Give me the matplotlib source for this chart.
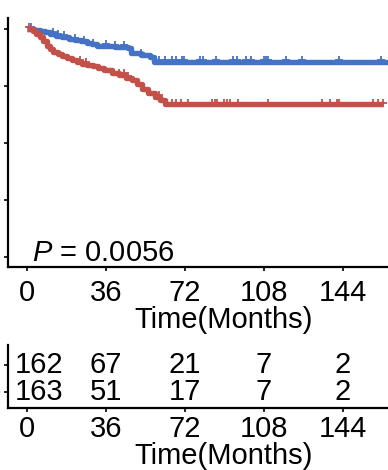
import numpy as np
import matplotlib
matplotlib.use("Agg")
import matplotlib.pyplot as plt

plt.rcParams['font.family'] = ['Liberation Sans', 'DejaVu Sans']
plt.rcParams['mathtext.fontset'] = 'custom'
plt.rcParams['mathtext.it'] = 'Liberation Sans:italic'
plt.rcParams['mathtext.rm'] = 'Liberation Sans'

# ---- data ----
blue_time = [0, 3, 5.9, 8, 10.5, 13, 16.0, 19, 21.9, 24.5, 27.3, 29.5, 31.9,
             40, 46.0, 47.4, 52, 56.0, 57.9, 170]
blue_surv = [1.0, 0.996, 0.99, 0.985, 0.978, 0.971, 0.965, 0.958, 0.952, 0.945,
             0.939, 0.932, 0.925, 0.921, 0.915, 0.893, 0.885, 0.877, 0.857, 0.857]
red_time = [0, 2.7, 4.3, 5.9, 7.5, 9.1, 10.5, 11.8, 14, 16, 18.2, 20.5, 22.8,
            25, 27.3, 30, 32.4, 35, 38.7, 42, 45, 47.8, 50, 52.4, 55, 58.3,
            60.5, 62.9, 162]
red_surv = [1.0, 0.993, 0.98, 0.965, 0.945, 0.925, 0.91, 0.899, 0.89, 0.883,
            0.872, 0.862, 0.855, 0.848, 0.842, 0.836, 0.829, 0.82, 0.807, 0.798,
            0.787, 0.776, 0.76, 0.737, 0.72, 0.702, 0.69, 0.669, 0.669]

blue_censor = [2, 12, 14, 17, 22, 26, 30, 36, 40, 44, 52, 60, 63, 66, 68,
               70.6, 71.5, 78.8, 80.2, 86.1, 93.9, 95.7, 99.8, 102.1, 108,
               108.9, 109.8, 118, 125.3, 142.2, 161.3]
red_censor = [1, 24, 27, 42, 44, 46, 60, 64, 66, 68, 70, 73.4, 84.3, 85.7,
              86.6, 89.8, 91.1, 92.5, 96.2, 109.8, 134.4, 138.1, 141.3,
              142.2, 157.7, 160, 162]

x_ticks = [0, 36, 72, 108, 144]
y_ticks = [0, 0.25, 0.5, 0.75, 1.0]
risk_top = [162, 67, 21, 7, 2]
risk_bottom = [163, 51, 17, 7, 2]
p_text = r'$\it{P}$ = 0.0056'
x_label = 'Time(Months)'

BLUE = '#4472C4'
RED = '#C4504A'
FS = 21

W, H = 388, 470
fig = plt.figure(figsize=(W / 100, H / 100), dpi=100)


def px_axes(x0, y_top, x1, y_bot):
    return fig.add_axes([x0 / W, 1 - y_bot / H, (x1 - x0) / W, (y_bot - y_top) / H])


xlim = (-(27 - 8) * 36 / 79, (388 - 27) * 36 / 79)

# ---- main KM plot ----
ax = px_axes(8, 18, 388, 267)
ax.set_xlim(*xlim)
ax.set_ylim(-0.044, 1.048)


def step_val(tt, ss, t):
    idx = np.searchsorted(np.asarray(tt), t, side='right') - 1
    return np.asarray(ss)[idx]


for tt, ss, cc, col in [(blue_time, blue_surv, blue_censor, BLUE),
                        (red_time, red_surv, red_censor, RED)]:
    ax.step(tt, ss, where='post', color=col, lw=3.9, solid_capstyle='butt', zorder=3)
    cc = np.asarray(cc)
    ax.plot(cc, step_val(tt, ss, cc) + 0.008, ls='none', marker='+', ms=6,
            mew=1.3, color=col, zorder=3)

for s in ['top', 'right']:
    ax.spines[s].set_visible(False)
for s in ['left', 'bottom']:
    ax.spines[s].set_linewidth(1.6)
ax.set_xticks(x_ticks)
ax.set_xticklabels([str(v) for v in x_ticks], fontsize=FS)
ax.set_yticks(y_ticks)
ax.set_yticklabels([])
ax.tick_params(axis='both', length=3, width=1.2)
ax.tick_params(axis='x', pad=5.8)
ax.text(2.3, -0.018, p_text, fontsize=FS, ha='left', va='baseline')
fig.text(224 / W, 1 - 328 / H, x_label, fontsize=FS, ha='center', va='baseline')

# ---- risk table ----
rt = px_axes(8, 345, 388, 408)
rt.set_xlim(*xlim)
rt.set_ylim(0.407, 2.74)
for i, t in enumerate(x_ticks):
    if i == 0:
        rt.text(-5.4, 2, str(risk_top[i]), fontsize=FS, ha='left', va='center')
        rt.text(-5.4, 1, str(risk_bottom[i]), fontsize=FS, ha='left', va='center')
    else:
        rt.text(t, 2, str(risk_top[i]), fontsize=FS, ha='center', va='center')
        rt.text(t, 1, str(risk_bottom[i]), fontsize=FS, ha='center', va='center')
for s in ['top', 'right']:
    rt.spines[s].set_visible(False)
for s in ['left', 'bottom']:
    rt.spines[s].set_linewidth(1.6)
rt.set_xticks(x_ticks)
rt.set_xticklabels([str(v) for v in x_ticks], fontsize=FS)
rt.set_yticks([1, 2])
rt.set_yticklabels([])
rt.tick_params(axis='both', length=3, width=1.2)
rt.tick_params(axis='x', pad=2.2)
fig.text(224 / W, 1 - 464 / H, x_label, fontsize=FS, ha='center', va='baseline')

fig.savefig('out.png', dpi=100)
